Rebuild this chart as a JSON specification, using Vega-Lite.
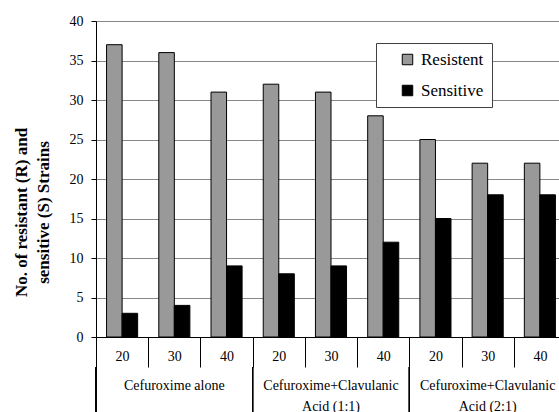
{
  "$schema": "https://vega.github.io/schema/vega-lite/v6.json",
  "padding": {"left": 12, "top": 14, "right": 0, "bottom": 0},
  "bounds": "flush",
  "spacing": 30,
  "config": {
    "font": "Liberation Serif",
    "view": {"stroke": null},
    "axis": {"labelFont": "Liberation Serif", "titleFont": "Liberation Serif", "labelColor": "#000", "titleColor": "#000"},
    "legend": {"labelFont": "Liberation Serif"}
  },
  "data": {
    "values": [
      {"treatment": "Cefuroxime alone", "cell": "A20", "status": "Resistent", "count": 37},
      {"treatment": "Cefuroxime alone", "cell": "A20", "status": "Sensitive", "count": 3},
      {"treatment": "Cefuroxime alone", "cell": "A30", "status": "Resistent", "count": 36},
      {"treatment": "Cefuroxime alone", "cell": "A30", "status": "Sensitive", "count": 4},
      {"treatment": "Cefuroxime alone", "cell": "A40", "status": "Resistent", "count": 31},
      {"treatment": "Cefuroxime alone", "cell": "A40", "status": "Sensitive", "count": 9},
      {"treatment": "Cefuroxime+Clavulanic Acid (1:1)", "cell": "B20", "status": "Resistent", "count": 32},
      {"treatment": "Cefuroxime+Clavulanic Acid (1:1)", "cell": "B20", "status": "Sensitive", "count": 8},
      {"treatment": "Cefuroxime+Clavulanic Acid (1:1)", "cell": "B30", "status": "Resistent", "count": 31},
      {"treatment": "Cefuroxime+Clavulanic Acid (1:1)", "cell": "B30", "status": "Sensitive", "count": 9},
      {"treatment": "Cefuroxime+Clavulanic Acid (1:1)", "cell": "B40", "status": "Resistent", "count": 28},
      {"treatment": "Cefuroxime+Clavulanic Acid (1:1)", "cell": "B40", "status": "Sensitive", "count": 12},
      {"treatment": "Cefuroxime+Clavulanic Acid (2:1)", "cell": "C20", "status": "Resistent", "count": 25},
      {"treatment": "Cefuroxime+Clavulanic Acid (2:1)", "cell": "C20", "status": "Sensitive", "count": 15},
      {"treatment": "Cefuroxime+Clavulanic Acid (2:1)", "cell": "C30", "status": "Resistent", "count": 22},
      {"treatment": "Cefuroxime+Clavulanic Acid (2:1)", "cell": "C30", "status": "Sensitive", "count": 18},
      {"treatment": "Cefuroxime+Clavulanic Acid (2:1)", "cell": "C40", "status": "Resistent", "count": 22},
      {"treatment": "Cefuroxime+Clavulanic Acid (2:1)", "cell": "C40", "status": "Sensitive", "count": 18}
    ]
  },
  "vconcat": [
    {
      "width": 470,
      "height": 316,
      "mark": {"type": "bar", "stroke": "#000", "strokeWidth": 1},
      "encoding": {
        "x": {
          "field": "cell", "type": "nominal", "sort": null,
          "scale": {"paddingInner": 0, "paddingOuter": 0},
          "axis": {
            "title": null, "labelAngle": 0,
            "labelExpr": "datum.value ? substring(datum.value, 1) : ''",
            "labelFontSize": 14, "labelBaseline": "middle", "labelPadding": -11,
            "tickBand": "extent", "tickSize": 30, "tickColor": "#000",
            "domainColor": "#000", "grid": false
          }
        },
        "xOffset": {
          "field": "status", "type": "nominal",
          "scale": {"paddingInner": 0, "paddingOuter": 0.68}
        },
        "y": {
          "field": "count", "type": "quantitative", "stack": null,
          "scale": {"domain": [0, 40], "nice": false},
          "axis": {
            "values": [0, 5, 10, 15, 20, 25, 30, 35, 40],
            "title": ["No. of resistant (R) and", "sensitive (S) Strains"],
            "titleFontSize": 17, "titleFontWeight": "bold", "titleAngle": -90,
            "titleAlign": "center", "titleBaseline": "top", "titleX": -83, "titleY": 191,
            "titleLineHeight": 22,
            "labelFontSize": 14, "labelPadding": 8,
            "tickSize": 5, "tickColor": "#000", "domainColor": "#000",
            "grid": true, "gridColor": "#888888"
          }
        },
        "color": {
          "field": "status", "type": "nominal",
          "scale": {"domain": ["Resistent", "Sensitive"], "range": ["#999999", "#000000"]},
          "legend": {
            "title": null, "orient": "none", "legendX": 280, "legendY": 22,
            "symbolType": "square", "symbolSize": 110, "symbolStrokeColor": "#000", "symbolStrokeWidth": 1,
            "labelFontSize": 17, "labelColor": "#000", "labelOffset": 5,
            "padding": 8, "symbolOffset": 15, "rowPadding": 13,
            "fillColor": "#ffffff", "strokeColor": "#404040"
          }
        }
      }
    },
    {
      "width": 470,
      "height": 45,
      "mark": {"type": "rule", "color": "#000", "strokeWidth": 1},
      "encoding": {
        "x": {
          "field": "treatment", "type": "nominal", "sort": null, "bandPosition": 0,
          "scale": {"paddingInner": 0, "paddingOuter": 0},
          "axis": {
            "orient": "top", "title": null, "labelAngle": 0, "domain": false, "ticks": false,
            "labelExpr": "indexof(datum.value, 'Acid') > 0 ? [slice(datum.value, 0, 21), slice(datum.value, 22)] : datum.value",
            "labelFontSize": 14, "labelBaseline": "top", "labelPadding": -11, "labelLineHeight": 21, "grid": false
          }
        }
      }
    }
  ]
}
